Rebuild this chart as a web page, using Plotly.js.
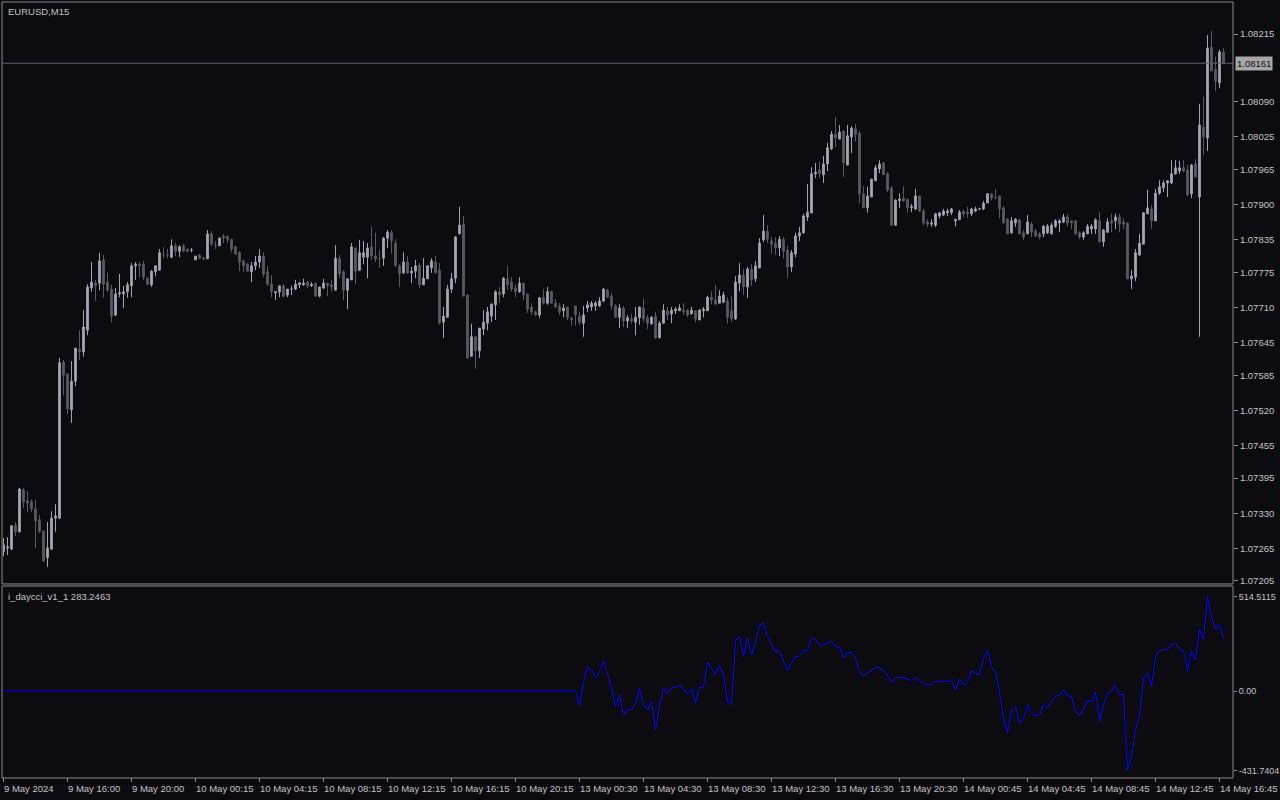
<!DOCTYPE html>
<html><head><meta charset="utf-8">
<script src="https://cdn.plot.ly/plotly-3.0.1.min.js"></script>
<style>html,body{margin:0;padding:0;background:#0b0b10;}#chart{width:1280px;height:800px;}</style>
</head><body><div id="chart"></div>
<script>
const symbolTitle = "EURUSD,M15";
const cciName = "i_daycci_v1_1";
const cciLast = "283.2463";
const lastPrice = 1.08161;

const open = [
1.07259,1.07266,1.07264,1.07308,1.07296,1.07373,1.07353,1.07351,1.07338,1.07318,
1.07297,1.07248,1.07264,1.07321,1.07321,1.07609,1.07587,1.07521,1.07574,1.07633,
1.07628,1.07668,1.07746,1.07755,1.07755,1.07798,1.07757,1.07744,1.07696,1.07735,
1.07735,1.07739,1.07750,1.07787,1.07790,1.07790,1.07764,1.07752,1.07776,1.07779,
1.07807,1.07807,1.07803,1.07824,1.07814,1.07824,1.07818,1.07816,1.07798,1.07807,
1.07801,1.07800,1.07846,1.07825,1.07824,1.07842,1.07842,1.07836,1.07822,1.07812,
1.07796,1.07790,1.07776,1.07787,1.07794,1.07805,1.07776,1.07753,1.07737,1.07739,
1.07750,1.07733,1.07744,1.07744,1.07752,1.07752,1.07757,1.07750,1.07755,1.07731,
1.07746,1.07755,1.07752,1.07742,1.07800,1.07776,1.07742,1.07761,1.07820,1.07779,
1.07803,1.07803,1.07822,1.07805,1.07800,1.07801,1.07838,1.07848,1.07829,1.07787,
1.07774,1.07794,1.07774,1.07777,1.07788,1.07752,1.07763,1.07783,1.07794,1.07779,
1.07683,1.07692,1.07744,1.07764,1.07846,1.07864,1.07733,1.07620,1.07656,1.07630,
1.07670,1.07681,1.07694,1.07715,1.07739,1.07735,1.07763,1.07757,1.07746,1.07739,
1.07755,1.07735,1.07711,1.07702,1.07696,1.07728,1.07718,1.07740,1.07718,1.07713,
1.07704,1.07711,1.07691,1.07713,1.07694,1.07681,1.07709,1.07711,1.07713,1.07713,
1.07722,1.07742,1.07731,1.07713,1.07692,1.07709,1.07685,1.07689,1.07683,1.07691,
1.07709,1.07691,1.07680,1.07694,1.07654,1.07681,1.07704,1.07698,1.07704,1.07704,
1.07705,1.07705,1.07698,1.07704,1.07687,1.07704,1.07704,1.07729,1.07724,1.07718,
1.07720,1.07722,1.07704,1.07689,1.07755,1.07770,1.07748,1.07781,1.07763,1.07783,
1.07835,1.07851,1.07833,1.07829,1.07820,1.07836,1.07816,1.07785,1.07809,1.07842,
1.07848,1.07877,1.07885,1.07957,1.07964,1.07955,1.07975,1.08003,1.08030,1.08021,
1.08036,1.07973,1.08025,1.08040,1.08032,1.07920,1.07894,1.07914,1.07944,1.07966,
1.07977,1.07957,1.07931,1.07862,1.07907,1.07912,1.07910,1.07894,1.07892,1.07916,
1.07888,1.07868,1.07864,1.07862,1.07879,1.07881,1.07885,1.07885,1.07870,1.07872,
1.07888,1.07886,1.07883,1.07888,1.07892,1.07892,1.07903,1.07920,1.07912,1.07916,
1.07894,1.07873,1.07848,1.07866,1.07872,1.07848,1.07846,1.07864,1.07851,1.07846,
1.07846,1.07848,1.07846,1.07860,1.07866,1.07868,1.07877,1.07870,1.07870,1.07848,
1.07840,1.07846,1.07855,1.07855,1.07870,1.07831,1.07849,1.07870,1.07870,1.07877,
1.07868,1.07866,1.07763,1.07766,1.07807,1.07827,1.07883,1.07892,1.07870,1.07921,
1.07931,1.07940,1.07940,1.07957,1.07962,1.07968,1.07964,1.07920,1.07975,1.07914,
1.08043,1.08023,1.08191,1.08149,1.08125,1.08182];

const high = [
1.07284,1.07286,1.07307,1.07314,1.07377,1.07377,1.07371,1.07355,1.07355,1.07327,
1.07299,1.07314,1.07334,1.07347,1.07617,1.07613,1.07589,1.07611,1.07635,1.07668,
1.07705,1.07753,1.07794,1.07761,1.07811,1.07807,1.07774,1.07752,1.07746,1.07772,
1.07750,1.07757,1.07792,1.07794,1.07794,1.07796,1.07766,1.07779,1.07788,1.07818,
1.07822,1.07818,1.07836,1.07829,1.07825,1.07827,1.07818,1.07820,1.07805,1.07809,
1.07803,1.07853,1.07851,1.07833,1.07840,1.07846,1.07842,1.07836,1.07824,1.07814,
1.07798,1.07792,1.07794,1.07805,1.07818,1.07812,1.07787,1.07770,1.07740,1.07750,
1.07753,1.07744,1.07750,1.07761,1.07757,1.07763,1.07759,1.07757,1.07755,1.07748,
1.07763,1.07755,1.07761,1.07825,1.07807,1.07779,1.07763,1.07829,1.07820,1.07835,
1.07833,1.07829,1.07860,1.07848,1.07816,1.07840,1.07853,1.07853,1.07836,1.07790,
1.07812,1.07805,1.07785,1.07798,1.07792,1.07801,1.07788,1.07801,1.07805,1.07792,
1.07711,1.07752,1.07774,1.07842,1.07896,1.07879,1.07733,1.07680,1.07656,1.07672,
1.07705,1.07711,1.07718,1.07742,1.07748,1.07766,1.07787,1.07766,1.07752,1.07766,
1.07755,1.07735,1.07718,1.07704,1.07729,1.07744,1.07748,1.07740,1.07726,1.07718,
1.07716,1.07711,1.07692,1.07713,1.07702,1.07713,1.07722,1.07722,1.07722,1.07729,
1.07746,1.07744,1.07737,1.07716,1.07716,1.07713,1.07696,1.07698,1.07711,1.07711,
1.07726,1.07696,1.07694,1.07702,1.07685,1.07716,1.07711,1.07711,1.07711,1.07716,
1.07718,1.07707,1.07711,1.07705,1.07707,1.07711,1.07731,1.07740,1.07752,1.07742,
1.07739,1.07729,1.07731,1.07768,1.07792,1.07781,1.07785,1.07790,1.07796,1.07838,
1.07881,1.07862,1.07840,1.07840,1.07842,1.07840,1.07824,1.07816,1.07848,1.07859,
1.07883,1.07938,1.07969,1.07977,1.07979,1.07990,1.08014,1.08036,1.08062,1.08047,
1.08036,1.08047,1.08045,1.08049,1.08036,1.07934,1.07933,1.07947,1.07973,1.07982,
1.07979,1.07960,1.07934,1.07910,1.07921,1.07934,1.07910,1.07901,1.07929,1.07916,
1.07892,1.07873,1.07873,1.07885,1.07886,1.07892,1.07892,1.07894,1.07873,1.07890,
1.07890,1.07896,1.07894,1.07896,1.07894,1.07907,1.07921,1.07921,1.07929,1.07916,
1.07897,1.07875,1.07877,1.07875,1.07873,1.07853,1.07881,1.07868,1.07855,1.07849,
1.07862,1.07864,1.07866,1.07873,1.07873,1.07883,1.07883,1.07870,1.07870,1.07851,
1.07851,1.07864,1.07864,1.07875,1.07886,1.07855,1.07875,1.07883,1.07883,1.07883,
1.07875,1.07866,1.07779,1.07818,1.07846,1.07885,1.07927,1.07899,1.07929,1.07945,
1.07945,1.07945,1.07982,1.07982,1.07981,1.07982,1.07973,1.07975,1.07984,1.08086,
1.08099,1.08213,1.08221,1.08173,1.08186,1.08189];

const low = [
1.07251,1.07253,1.07262,1.07288,1.07294,1.07340,1.07332,1.07332,1.07266,1.07294,
1.07240,1.07231,1.07262,1.07296,1.07321,1.07548,1.07513,1.07497,1.07565,1.07613,
1.07619,1.07659,1.07739,1.07722,1.07742,1.07728,1.07739,1.07683,1.07694,1.07729,
1.07709,1.07728,1.07729,1.07761,1.07766,1.07761,1.07752,1.07748,1.07768,1.07779,
1.07801,1.07801,1.07801,1.07805,1.07803,1.07812,1.07812,1.07812,1.07798,1.07800,
1.07798,1.07800,1.07824,1.07818,1.07824,1.07829,1.07829,1.07812,1.07807,1.07777,
1.07776,1.07776,1.07757,1.07779,1.07783,1.07766,1.07750,1.07729,1.07724,1.07729,
1.07729,1.07729,1.07733,1.07742,1.07746,1.07750,1.07746,1.07748,1.07731,1.07729,
1.07744,1.07731,1.07739,1.07742,1.07764,1.07724,1.07707,1.07761,1.07753,1.07777,
1.07790,1.07764,1.07798,1.07794,1.07783,1.07787,1.07820,1.07809,1.07785,1.07748,
1.07772,1.07772,1.07755,1.07764,1.07746,1.07752,1.07763,1.07774,1.07774,1.07678,
1.07654,1.07692,1.07737,1.07755,1.07846,1.07731,1.07615,1.07620,1.07597,1.07617,
1.07659,1.07668,1.07683,1.07687,1.07718,1.07729,1.07742,1.07739,1.07729,1.07737,
1.07724,1.07700,1.07696,1.07694,1.07691,1.07715,1.07715,1.07718,1.07709,1.07696,
1.07692,1.07687,1.07676,1.07676,1.07678,1.07656,1.07702,1.07704,1.07704,1.07711,
1.07720,1.07728,1.07705,1.07691,1.07672,1.07674,1.07672,1.07680,1.07659,1.07678,
1.07683,1.07670,1.07678,1.07652,1.07654,1.07680,1.07687,1.07681,1.07698,1.07704,
1.07696,1.07692,1.07698,1.07683,1.07687,1.07692,1.07704,1.07716,1.07716,1.07718,
1.07718,1.07680,1.07683,1.07687,1.07740,1.07733,1.07728,1.07750,1.07757,1.07783,
1.07831,1.07829,1.07809,1.07807,1.07805,1.07801,1.07764,1.07776,1.07803,1.07833,
1.07846,1.07870,1.07883,1.07949,1.07949,1.07940,1.07962,1.08001,1.08006,1.08021,
1.07951,1.07973,1.07995,1.08016,1.07903,1.07894,1.07885,1.07914,1.07944,1.07958,
1.07955,1.07923,1.07862,1.07862,1.07894,1.07905,1.07885,1.07886,1.07890,1.07886,
1.07862,1.07859,1.07859,1.07859,1.07875,1.07879,1.07879,1.07881,1.07860,1.07872,
1.07877,1.07875,1.07879,1.07886,1.07890,1.07890,1.07903,1.07908,1.07910,1.07875,
1.07866,1.07846,1.07846,1.07859,1.07846,1.07835,1.07846,1.07840,1.07840,1.07836,
1.07840,1.07846,1.07846,1.07857,1.07849,1.07866,1.07860,1.07855,1.07846,1.07836,
1.07835,1.07846,1.07846,1.07846,1.07831,1.07822,1.07849,1.07849,1.07855,1.07849,
1.07855,1.07763,1.07744,1.07759,1.07805,1.07827,1.07883,1.07855,1.07870,1.07918,
1.07923,1.07914,1.07938,1.07955,1.07957,1.07960,1.07916,1.07912,1.07951,1.07656,
1.07992,1.07999,1.08147,1.08110,1.08115,1.08160];

const close = [
1.07272,1.07268,1.07307,1.07296,1.07375,1.07351,1.07349,1.07338,1.07316,1.07296,
1.07242,1.07266,1.07321,1.07325,1.07608,1.07585,1.07523,1.07574,1.07635,1.07628,
1.07674,1.07748,1.07757,1.07750,1.07796,1.07753,1.07742,1.07694,1.07735,1.07737,
1.07739,1.07752,1.07787,1.07790,1.07787,1.07766,1.07753,1.07777,1.07787,1.07811,
1.07807,1.07807,1.07824,1.07814,1.07822,1.07814,1.07814,1.07816,1.07805,1.07801,
1.07800,1.07846,1.07827,1.07825,1.07838,1.07838,1.07836,1.07818,1.07809,1.07794,
1.07787,1.07777,1.07787,1.07794,1.07805,1.07772,1.07753,1.07739,1.07739,1.07750,
1.07731,1.07744,1.07744,1.07753,1.07755,1.07755,1.07750,1.07753,1.07731,1.07748,
1.07755,1.07750,1.07748,1.07801,1.07772,1.07742,1.07763,1.07822,1.07777,1.07811,
1.07811,1.07820,1.07805,1.07800,1.07800,1.07838,1.07849,1.07833,1.07788,1.07772,
1.07794,1.07774,1.07777,1.07787,1.07752,1.07764,1.07787,1.07796,1.07774,1.07681,
1.07694,1.07744,1.07763,1.07840,1.07862,1.07731,1.07617,1.07656,1.07630,1.07672,
1.07683,1.07702,1.07716,1.07739,1.07733,1.07764,1.07752,1.07744,1.07739,1.07755,
1.07733,1.07707,1.07702,1.07696,1.07728,1.07718,1.07739,1.07718,1.07711,1.07702,
1.07709,1.07691,1.07687,1.07696,1.07683,1.07696,1.07715,1.07718,1.07718,1.07722,
1.07744,1.07729,1.07713,1.07692,1.07709,1.07685,1.07691,1.07685,1.07692,1.07711,
1.07689,1.07681,1.07692,1.07654,1.07681,1.07705,1.07696,1.07705,1.07707,1.07709,
1.07702,1.07696,1.07705,1.07689,1.07705,1.07707,1.07729,1.07724,1.07716,1.07731,
1.07733,1.07692,1.07689,1.07757,1.07770,1.07748,1.07781,1.07761,1.07787,1.07829,
1.07851,1.07836,1.07827,1.07820,1.07836,1.07814,1.07785,1.07811,1.07842,1.07848,
1.07879,1.07886,1.07957,1.07960,1.07957,1.07975,1.08005,1.08030,1.08023,1.08034,
1.07977,1.08027,1.08041,1.08029,1.07920,1.07894,1.07916,1.07947,1.07968,1.07975,
1.07955,1.07927,1.07862,1.07908,1.07910,1.07907,1.07894,1.07896,1.07916,1.07888,
1.07866,1.07864,1.07866,1.07883,1.07885,1.07888,1.07888,1.07892,1.07873,1.07886,
1.07883,1.07883,1.07892,1.07892,1.07892,1.07903,1.07920,1.07912,1.07912,1.07892,
1.07866,1.07846,1.07870,1.07873,1.07846,1.07840,1.07868,1.07849,1.07842,1.07840,
1.07860,1.07860,1.07862,1.07870,1.07870,1.07877,1.07866,1.07866,1.07846,1.07840,
1.07848,1.07860,1.07860,1.07872,1.07831,1.07853,1.07868,1.07866,1.07877,1.07864,
1.07864,1.07763,1.07768,1.07811,1.07829,1.07885,1.07894,1.07870,1.07921,1.07933,
1.07940,1.07944,1.07957,1.07968,1.07968,1.07962,1.07918,1.07973,1.07951,1.08047,
1.08025,1.08189,1.08147,1.08128,1.08182,1.08161];

const cci = [
0,0,0,0,0,0,0,0,0,0, 0,0,0,0,0,0,0,0,0,0, 0,0,0,0,0,0,0,0,0,0, 0,0,0,0,0,0,0,0,0,0,
0,0,0,0,0,0,0,0,0,0, 0,0,0,0,0,0,0,0,0,0, 0,0,0,0,0,0,0,0,0,0, 0,0,0,0,0,0,0,0,0,0,
0,0,0,0,0,0,0,0,0,0, 0,0,0,0,0,0,0,0,0,0, 0,0,0,0,0,0,0,0,0,0, 0,0,0,0,0,0,0,0,0,0,
0,0,0,0,0,0,0,0,0,0, 0,0,0,0,0,0,0,0,0,0, 0,0,0,0,
-76,45,132,114,72,105,163,96,15,-85,
-22,-131,-103,-100,-67,15,-76,-103,-58,-209,
-85,18,-16,18,20,36,9,-16,13,-67,
20,20,156,123,87,141,92,-62,-73,274,
296,187,287,196,268,359,368,296,259,214,
219,169,110,151,187,190,219,219,290,277,
250,250,265,268,241,236,181,210,209,178,
105,82,96,114,127,127,110,87,45,74,
74,72,65,56,72,56,38,36,36,51,
51,54,54,54,5,65,33,45,110,96,
87,178,223,132,105,-4,-149,-227,-103,-82,
-176,-149,-73,-122,-136,-131,-71,-91,-54,-27,
-24,5,-27,-27,-112,-131,-98,-49,-58,-5,
-163,-76,-13,0,33,-18,-18,-430,-357,-212,
-131,69,100,24,190,218,227,223,254,259,
227,218,109,218,169,335,281,514.51,404,332,
363,283.25];

const tickIdx = [0,16,32,48,64,80,96,112,128,144,160,176,192,208,224,240,256,272,288,304];
const tickText = ["9 May 2024","9 May 16:00","9 May 20:00","10 May 00:15","10 May 04:15","10 May 08:15",
"10 May 12:15","10 May 16:15","10 May 20:15","13 May 00:30","13 May 04:30","13 May 08:30",
"13 May 12:30","13 May 16:30","13 May 20:30","14 May 00:45","14 May 04:45","14 May 08:45",
"14 May 12:45","14 May 16:45"];
const priceTicks = [1.07205,1.07265,1.07330,1.07395,1.07455,1.07520,1.07585,1.07645,1.07710,
1.07775,1.07835,1.07900,1.07965,1.08025,1.08090,1.08215];
const cciTicks = [514.5115, 0, -431.7404];
const cciTickText = ["514.5115","0.00","-431.7404"];

const idx = open.map((_, i) => i);
const BG = '#0b0b10', FRAME = '#8c8c8c', TXT = '#c4c4c4';
const FAM = 'Liberation Sans, Arial, sans-serif';
const FONT = {family: FAM, size: 9.5, color: TXT};
const FONT_SMALL = {family: FAM, size: 9, color: TXT};

const traces = [
  {type: 'candlestick', x: idx, open: open, high: high, low: low, close: close,
   xaxis: 'x', yaxis: 'y', whiskerwidth: 0, hoverinfo: 'skip',
   increasing: {line: {color: '#a4a4b4', width: 1}, fillcolor: '#a4a4b4'},
   decreasing: {line: {color: '#5a5a62', width: 1}, fillcolor: '#5a5a62'}},
  {type: 'scatter', mode: 'lines', x: idx, y: cci, xaxis: 'x', yaxis: 'y2',
   line: {color: '#0000ff', width: 1}, hoverinfo: 'skip'}
];

const layout = {
  width: 1280, height: 800,
  margin: {l: 3, r: 47, t: 3, b: 23},
  paper_bgcolor: BG, plot_bgcolor: BG,
  showlegend: false, font: FONT, boxgap: 0.4,
  xaxis: {domain: [0, 1], range: [-0.125, 307.375], anchor: 'y2',
    tickmode: 'array', tickvals: tickIdx, ticktext: tickText, tickangle: 0,
    ticks: 'outside', ticklen: 4, tickcolor: FRAME, ticklabelposition: 'outside right',
    ticklabelstandoff: 3,
    tickfont: FONT, showgrid: false, zeroline: false, showline: false,
    rangeslider: {visible: false}, fixedrange: true},
  yaxis: {domain: [0.25065, 1], range: [1.072013, 1.082723], side: 'right', anchor: 'x',
    tickmode: 'array', tickvals: priceTicks, tickformat: '.5f',
    ticks: 'outside', ticklen: 4, tickcolor: FRAME, tickfont: FONT,
    showgrid: false, zeroline: false, showline: false, fixedrange: true},
  yaxis2: {domain: [0, 0.24548], range: [-467.8, 565.8], side: 'right', anchor: 'x',
    tickmode: 'array', tickvals: cciTicks, ticktext: cciTickText,
    ticks: 'outside', ticklen: 3, tickcolor: FRAME, tickfont: FONT_SMALL,
    showgrid: false, zeroline: false, showline: false, fixedrange: true},
  shapes: [
    {type: 'rect', xref: 'paper', yref: 'paper', x0: -0.0008, x1: 1, y0: 0.2494, y1: 1.0013,
     line: {color: FRAME, width: 1}},
    {type: 'rect', xref: 'paper', yref: 'paper', x0: -0.0008, x1: 1, y0: -0.0013, y1: 0.2468,
     line: {color: FRAME, width: 1}},
    {type: 'line', xref: 'paper', yref: 'y', x0: 0, x1: 1, y0: lastPrice, y1: lastPrice,
     line: {color: '#5e5e6a', width: 1}}
  ],
  annotations: [
    {xref: 'paper', yref: 'paper', x: 0, y: 1, xanchor: 'left', yanchor: 'top',
     xshift: 3, yshift: -1, text: symbolTitle, showarrow: false, font: FONT},
    {xref: 'paper', yref: 'paper', x: 0, y: 0.24548, xanchor: 'left', yanchor: 'top',
     xshift: 3, yshift: -2, text: cciName + ' ' + cciLast, showarrow: false, font: FONT},
    {xref: 'paper', yref: 'y', x: 1, y: lastPrice, xanchor: 'left', yanchor: 'middle',
     xshift: 2, text: lastPrice.toFixed(5), showarrow: false, bgcolor: '#a8a8a8',
     borderpad: 1, font: {family: FAM, size: 9.5, color: '#101010'}}
  ]
};

Plotly.newPlot('chart', traces, layout, {displayModeBar: false, staticPlot: true});
</script></body></html>
